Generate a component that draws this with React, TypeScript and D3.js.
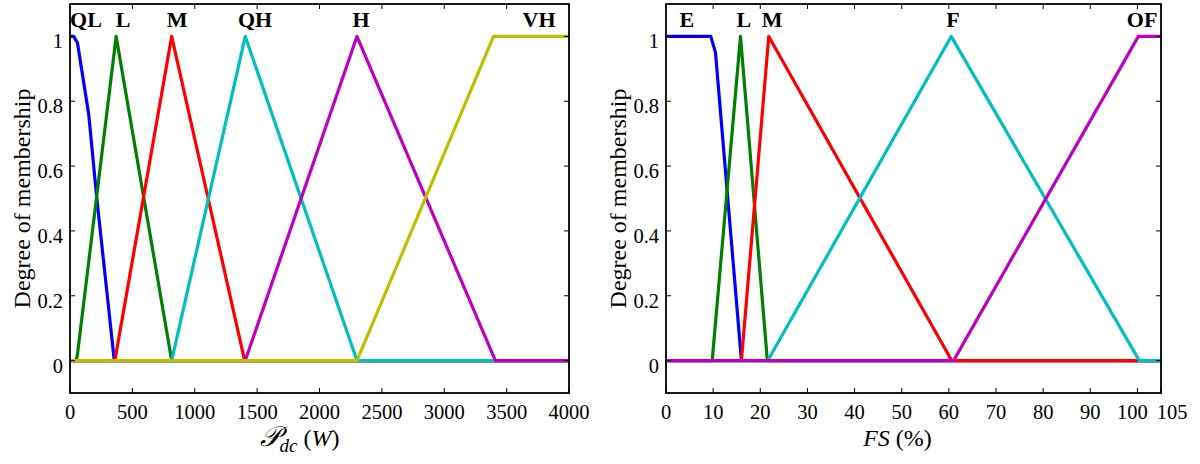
import React from 'react';
import * as d3 from 'd3';

// ---------- Left panel data (P_dc in W) ----------
const pdcTicks = [0, 500, 1000, 1500, 2000, 2500, 3000, 3500, 4000];
const qlX = [0, 30, 60, 150, 215, 355, 4000];
const qlY = [1, 1, 0.98, 0.76, 0.5, 0, 0];
const lowX = [0, 50, 60, 370, 815, 4000];
const lowY = [0, 0, 0.02, 1, 0, 0];
const medX = [0, 360, 815, 1400, 4000];
const medY = [0, 0, 1, 0, 0];
const qhX = [0, 815, 1405, 2300, 4000];
const qhY = [0, 0, 1, 0, 0];
const highX = [0, 1405, 2300, 3410, 4000];
const highY = [0, 0, 1, 0, 0];
const vhX = [0, 2300, 3395, 4000];
const vhY = [0, 0, 1, 1];
const pdcLabels = ['QL', 'L', 'M', 'QH', 'H', 'VH'];
const pdcLabelX = [128, 425, 858, 1483, 2333, 3760];

// ---------- Right panel data (FS in %) ----------
const fsTicks = [0, 10, 20, 30, 40, 50, 60, 70, 80, 90, 100, 105];
const eX = [0, 9.5, 10.5, 16, 105];
const eY = [1, 1, 0.95, 0, 0];
const lX = [0, 9.8, 15.8, 21.5, 105];
const lY = [0, 0, 1, 0, 0];
const mX = [0, 16, 21.8, 60.6, 105];
const mY = [0, 0, 1, 0, 0];
const fX = [0, 21.6, 60.5, 100.4, 105];
const fY = [0, 0, 1, 0, 0];
const ofX = [0, 61, 100.2, 105];
const ofY = [0, 0, 1, 1];
const fsLabels = ['E', 'L', 'M', 'F', 'OF'];
const fsLabelX = [4.4, 16.5, 22.5, 60.9, 101];

const yTicks = [0, 0.2, 0.4, 0.6, 0.8, 1];
const yTickLabels = ['0', '0.2', '0.4', '0.6', '0.8', '1'];

const C = {
  blue: '#0000ff',
  green: '#008000',
  red: '#ff0000',
  cyan: '#00bfbf',
  magenta: '#bf00bf',
  olive: '#bfbf00',
};

const FONT = '"Liberation Serif", "Times New Roman", serif';
const TOP = 4;
const BOTTOM = 393;

type Series = { xs: number[]; ys: number[]; color: string };

function Panel(props: {
  x0: number;
  x1: number;
  domain: [number, number];
  ticks: number[];
  tickDx?: Record<number, number>;
  series: Series[];
  labels: string[];
  labelX: number[];
  xlabel: React.ReactNode;
  xlabelShift: number;
}) {
  const { x0, x1, domain, ticks, series, labels, labelX, xlabel, xlabelShift } = props;
  const tickDx = props.tickDx || {};
  const x = d3.scaleLinear().domain(domain).range([x0, x1]);
  const y = d3.scaleLinear().domain([-0.1, 1.1]).range([BOTTOM, TOP]);
  const line = d3
    .line<[number, number]>()
    .x((d) => x(d[0]))
    .y((d) => y(d[1]));
  const tl = 5;
  const midY = (TOP + BOTTOM) / 2;
  return (
    <g>
      <rect x={x0} y={TOP} width={x1 - x0} height={BOTTOM - TOP} fill="#fff" />
      {series.map((s, i) => (
        <path
          key={i}
          d={line(s.xs.map((v, j) => [v, s.ys[j]] as [number, number])) || ''}
          fill="none"
          stroke={s.color}
          strokeWidth={3.2}
          strokeLinejoin="round"
        />
      ))}
      {ticks.map((t) => (
        <g key={'xt' + t}>
          <line x1={x(t)} x2={x(t)} y1={BOTTOM} y2={BOTTOM - tl} stroke="#000" strokeWidth={1} />
          <line x1={x(t)} x2={x(t)} y1={TOP} y2={TOP + tl} stroke="#000" strokeWidth={1} />
          <text
            x={x(t) + (tickDx[t] || 0)}
            y={419}
            textAnchor="middle"
            fontFamily={FONT}
            fontSize={20.5}
            fill="#000"
          >
            {String(t)}
          </text>
        </g>
      ))}
      {yTicks.map((t, i) => (
        <g key={'yt' + t}>
          <line x1={x0} x2={x0 + tl} y1={y(t)} y2={y(t)} stroke="#000" strokeWidth={1} />
          <line x1={x1} x2={x1 - tl} y1={y(t)} y2={y(t)} stroke="#000" strokeWidth={1} />
          <text x={x0 - 7} y={y(t) + 12} textAnchor="end" fontFamily={FONT} fontSize={20.5} fill="#000">
            {yTickLabels[i]}
          </text>
        </g>
      ))}
      <rect
        x={x0}
        y={TOP}
        width={x1 - x0}
        height={BOTTOM - TOP}
        fill="none"
        stroke="#000"
        strokeWidth={1.8}
      />
      {labels.map((lb, i) => (
        <text
          key={lb + i}
          x={x(labelX[i])}
          y={y(1.03)}
          textAnchor="middle"
          fontFamily={FONT}
          fontWeight="bold"
          fontSize={22}
          fill="#000"
        >
          {lb}
        </text>
      ))}
      <text
        transform={`translate(${x0 - 40},${midY}) rotate(-90)`}
        textAnchor="middle"
        fontFamily={FONT}
        fontSize={24}
        fill="#000"
      >
        Degree of membership
      </text>
      <text
        x={(x0 + x1) / 2 + xlabelShift}
        y={446}
        textAnchor="middle"
        fontFamily={FONT}
        fontSize={24}
        fill="#000"
      >
        {xlabel}
      </text>
    </g>
  );
}

export default function App() {
  const leftSeries: Series[] = [
    { xs: qlX, ys: qlY, color: C.blue },
    { xs: lowX, ys: lowY, color: C.green },
    { xs: medX, ys: medY, color: C.red },
    { xs: qhX, ys: qhY, color: C.cyan },
    { xs: highX, ys: highY, color: C.magenta },
    { xs: vhX, ys: vhY, color: C.olive },
  ];
  const rightSeries: Series[] = [
    { xs: eX, ys: eY, color: C.blue },
    { xs: lX, ys: lY, color: C.green },
    { xs: mX, ys: mY, color: C.red },
    { xs: fX, ys: fY, color: C.cyan },
    { xs: ofX, ys: ofY, color: C.magenta },
  ];
  return (
    <svg
      width={1200}
      height={464}
      viewBox="0 0 1200 464"
      style={{ position: 'absolute', left: 0, top: 0, background: '#fff' }}
    >
      <rect width={1200} height={464} fill="#fff" />
      <Panel
        x0={70}
        x1={569}
        domain={[0, 4000]}
        ticks={pdcTicks}
        series={leftSeries}
        labels={pdcLabels}
        labelX={pdcLabelX}
        xlabelShift={-20}
        xlabel={
          <>
            <tspan fontFamily='"DejaVu Serif", serif' fontStyle="italic" fontSize={28}>𝒫</tspan>
            <tspan fontStyle="italic" fontSize={19} dy={6}>dc</tspan>
            <tspan dy={-6}> (</tspan>
            <tspan fontStyle="italic">W</tspan>
            <tspan>)</tspan>
          </>
        }
      />
      <Panel
        x0={666}
        x1={1161}
        domain={[0, 105]}
        ticks={fsTicks}
        tickDx={{ 100: -5, 105: 11 }}
        series={rightSeries}
        labels={fsLabels}
        labelX={fsLabelX}
        xlabelShift={-16}
        xlabel={
          <>
            <tspan fontStyle="italic">FS</tspan>
            <tspan> (%)</tspan>
          </>
        }
      />
    </svg>
  );
}
